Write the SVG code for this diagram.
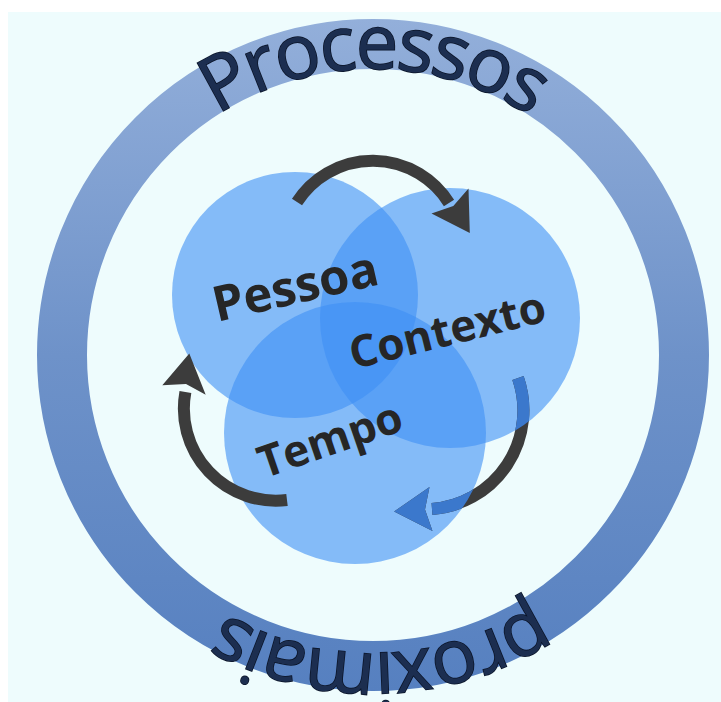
<svg xmlns="http://www.w3.org/2000/svg" width="721" height="702" viewBox="0 0 721 702">
<style>
.node-circle{fill:#3d8ff5;fill-opacity:0.6}
.label{font-family:"Open Sans","DejaVu Sans",sans-serif;font-weight:700;fill:#262626}
.arc-text{font-family:"Open Sans","DejaVu Sans",sans-serif;font-weight:500;font-size:76px;letter-spacing:-3px;fill:#1c2e50;stroke:#0a1428;stroke-width:1.5;paint-order:stroke}
.arrow-line{fill:none;stroke:#3c3c3c;stroke-width:12}
.arrow-head{fill:#3c3c3c}
</style>
<defs>
<linearGradient id="ringGrad" x1="0" y1="19" x2="0" y2="691" gradientUnits="userSpaceOnUse">
<stop offset="0" stop-color="#93afda"/>
<stop offset="0.5" stop-color="#6e92c9"/>
<stop offset="1" stop-color="#5680c0"/>
</linearGradient>
<path id="topArc" d="M 87 355 A 286 286 0 1 1 659 355"/>
<path id="botArc" d="M 671 355 A 298 298 0 0 1 75 355"/>
<clipPath id="circClip">
<circle cx="450" cy="318" r="130"/>
<circle cx="355" cy="433" r="131"/>
</clipPath>
</defs>
<rect x="0" y="0" width="721" height="702" fill="#ffffff"/>
<rect x="8" y="12" width="713" height="690" fill="#eefcfd"/>
<g id="ring">
<circle cx="373" cy="355" r="311" fill="none" stroke="url(#ringGrad)" stroke-width="50"/>
<text class="arc-text"><textPath href="#topArc" startOffset="50%" text-anchor="middle">Processos</textPath></text>
<text class="arc-text"><textPath href="#botArc" startOffset="458" text-anchor="middle">proximais</textPath></text>
</g>
<g id="node-pessoa"><circle class="node-circle" cx="295" cy="295" r="123"/></g>
<g id="node-contexto"><circle class="node-circle" cx="450" cy="318" r="130"/></g>
<g id="node-tempo"><circle class="node-circle" cx="355" cy="433" r="131"/></g>
<g id="connectors">
<g id="arrow-top">
<path class="arrow-line" d="M 297 202 A 90 90 0 0 1 449 203"/>
<polygon class="arrow-head" points="468.5,188.5 469.8,233 431.5,213.5 453.3,206"/>
</g>
<g id="arrow-right">
<path class="arrow-line" d="M 518 378 A 99 99 0 0 1 432 509"/>
<polygon class="arrow-head" points="432.5,531 394.1,511.5 429.5,487 425,509.4"/>
<g clip-path="url(#circClip)">
<path d="M 518 378 A 99 99 0 0 1 432 509" fill="none" stroke="#3b78cc" stroke-width="12"/>
<polygon fill="#3b78cc" points="432.5,531 394.1,511.5 429.5,487 425,509.4"/>
</g>
</g>
<g id="arrow-left">
<path class="arrow-line" d="M 287 500 A 92 92 0 0 1 185.4 392"/>
<polygon class="arrow-head" points="162.3,385.3 189.3,353.5 205.7,394.7 186,384"/>
</g>
</g>
<g id="labels">
<text id="label-pessoa" class="label" font-size="49" text-anchor="middle" transform="translate(299 303) rotate(-13)">Pessoa</text>
<text id="label-contexto" class="label" font-size="44" text-anchor="middle" transform="translate(451 345) rotate(-14)">Contexto</text>
<text id="label-tempo" class="label" font-size="44" text-anchor="middle" transform="translate(335 454) rotate(-19)">Tempo</text>
</g>
</svg>
